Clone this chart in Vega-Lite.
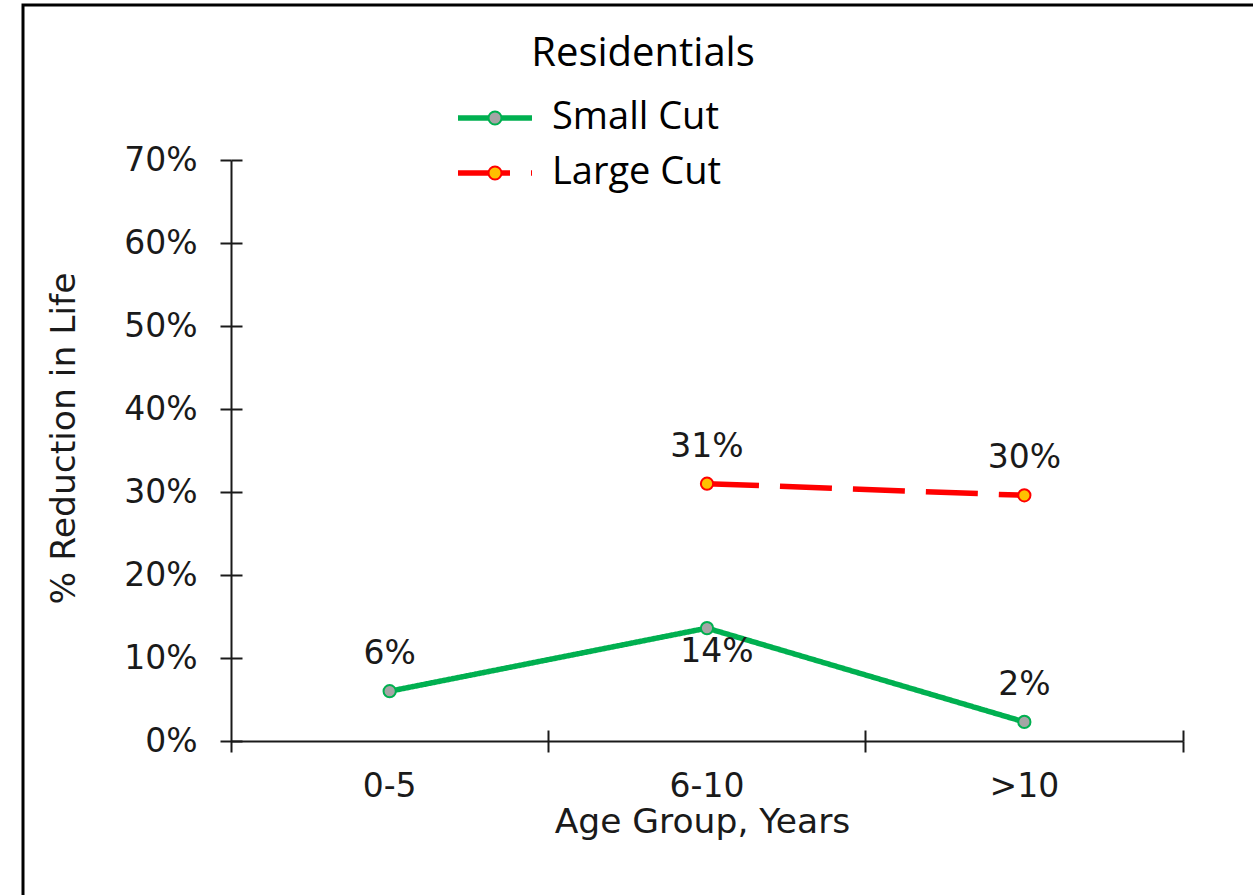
{
  "$schema": "https://vega.github.io/schema/vega-lite/v6.json",
  "width": 1240,
  "height": 900,
  "autosize": {"type": "none"},
  "padding": {"left": 23, "top": 5, "right": -10, "bottom": -10},
  "background": "white",
  "config": {
    "view": {"stroke": "#000000", "strokeWidth": 3},
    "axis": {"grid": false, "domainColor": "#1a1a1a", "tickColor": "#1a1a1a", "domainWidth": 2, "tickWidth": 2}
  },
  "title": {
    "text": "Residentials",
    "orient": "top",
    "anchor": "middle",
    "offset": -101,
    "baseline": "alphabetic",
    "font": "Open Sans",
    "fontSize": 40,
    "fontWeight": "normal",
    "color": "#000000"
  },
  "data": {
    "values": [
      {"Age": "0-5", "Series": "Small Cut", "Value": 0.06},
      {"Age": "6-10", "Series": "Small Cut", "Value": 0.136},
      {"Age": ">10", "Series": "Small Cut", "Value": 0.023},
      {"Age": "6-10", "Series": "Large Cut", "Value": 0.31},
      {"Age": ">10", "Series": "Large Cut", "Value": 0.296}
    ]
  },
  "layer": [
    {
      "mark": {"type": "line", "strokeWidth": 5.5},
      "encoding": {
        "x": {
          "field": "Age",
          "type": "ordinal",
          "scale": {"type": "band", "domain": ["0-5", "6-10", ">10"], "range": [208, 1160], "paddingInner": 0, "paddingOuter": 0},
          "axis": {
            "orient": "bottom",
            "offset": -164,
            "bandPosition": 1,
            "tickSize": 11,
            "labelAngle": 0,
            "labelFont": "DejaVu Sans",
            "labelFontSize": 33,
            "labelColor": "#1a1a1a",
            "labelPadding": 18,
            "title": "Age Group, Years",
            "titleFont": "DejaVu Sans",
            "titleFontSize": 34.5,
            "titleFontWeight": "normal",
            "titleColor": "#1a1a1a",
            "titlePadding": 2,
            "titleX": 679
          }
        },
        "y": {
          "field": "Value",
          "type": "quantitative",
          "scale": {"domain": [-0.01325, 0.7], "range": [747, 155], "nice": false, "zero": false},
          "axis": {
            "orient": "left",
            "offset": -208,
            "values": [0, 0.1, 0.2, 0.3, 0.4, 0.5, 0.6, 0.7],
            "format": ".0%",
            "tickSize": 11,
            "labelFont": "DejaVu Sans",
            "labelFontSize": 33,
            "labelColor": "#1a1a1a",
            "labelPadding": 23,
            "title": "% Reduction in Life",
            "titleFont": "DejaVu Sans",
            "titleFontSize": 34.5,
            "titleFontWeight": "normal",
            "titleColor": "#1a1a1a",
            "titlePadding": 42,
            "titleY": 433
          }
        },
        "stroke": {
          "field": "Series",
          "type": "nominal",
          "scale": {"domain": ["Small Cut", "Large Cut"], "range": ["#00B050", "#FF0000"]},
          "legend": {
            "orient": "none",
            "legendX": 453,
            "legendY": 94,
            "title": null,
            "padding": 0,
            "symbolType": "M-5,0H5",
            "symbolSize": 219,
            "symbolStrokeWidth": 5.5,
            "labelFont": "Open Sans",
            "labelFontSize": 38,
            "labelColor": "#000000",
            "labelOffset": 38,
            "labelLimit": 400,
            "rowPadding": 17
          }
        },
        "strokeDash": {
          "field": "Series",
          "type": "nominal",
          "scale": {"domain": ["Small Cut", "Large Cut"], "range": [[1, 0], [52, 21]]}
        }
      }
    },
    {
      "mark": {"type": "point", "shape": "circle", "filled": true, "opacity": 1, "size": 150, "strokeWidth": 2},
      "encoding": {
        "x": {
          "field": "Age",
          "type": "ordinal",
          "axis": {
            "orient": "bottom",
            "offset": -175,
            "bandPosition": 1,
            "tickSize": 11,
            "domain": false,
            "labels": false,
            "title": null
          }
        },
        "y": {
          "field": "Value",
          "type": "quantitative",
          "axis": {
            "orient": "left",
            "offset": -219,
            "values": [0, 0.1, 0.2, 0.3, 0.4, 0.5, 0.6, 0.7],
            "tickSize": 11,
            "domain": false,
            "labels": false,
            "title": null
          }
        },
        "fill": {
          "field": "Series",
          "type": "nominal",
          "scale": {"domain": ["Small Cut", "Large Cut"], "range": ["#A5A5A5", "#FFC000"]},
          "legend": {
            "orient": "none",
            "legendX": 453,
            "legendY": 94,
            "title": null,
            "padding": 0,
            "symbolType": "circle",
            "symbolSize": 169,
            "symbolStrokeWidth": 2,
            "symbolOpacity": 1,
            "labelFont": "Open Sans",
            "labelFontSize": 38,
            "labelExpr": "''",
            "labelOffset": 0,
            "rowPadding": 17
          }
        },
        "stroke": {
          "field": "Series",
          "type": "nominal",
          "scale": {"domain": ["Small Cut", "Large Cut"], "range": ["#00B050", "#FF0000"]}
        }
      }
    },
    {
      "transform": [{"filter": "datum.Age !== '6-10' || datum.Series !== 'Small Cut'"}],
      "mark": {"type": "text", "font": "DejaVu Sans", "fontSize": 33, "color": "#1a1a1a", "baseline": "alphabetic", "align": "center", "dy": -27},
      "encoding": {
        "x": {"field": "Age", "type": "ordinal", "axis": null},
        "y": {"field": "Value", "type": "quantitative", "axis": null},
        "text": {"field": "Value", "type": "quantitative", "format": ".0%"}
      }
    },
    {
      "transform": [{"filter": "datum.Age === '6-10' && datum.Series === 'Small Cut'"}],
      "mark": {"type": "text", "font": "DejaVu Sans", "fontSize": 33, "color": "#1a1a1a", "baseline": "alphabetic", "align": "center", "dx": 10, "dy": 34},
      "encoding": {
        "x": {"field": "Age", "type": "ordinal", "axis": null},
        "y": {"field": "Value", "type": "quantitative", "axis": null},
        "text": {"field": "Value", "type": "quantitative", "format": ".0%"}
      }
    }
  ],
  "resolve": {
    "scale": {"stroke": "independent", "fill": "independent", "strokeDash": "independent"},
    "axis": {"x": "independent", "y": "independent"}
  }
}
